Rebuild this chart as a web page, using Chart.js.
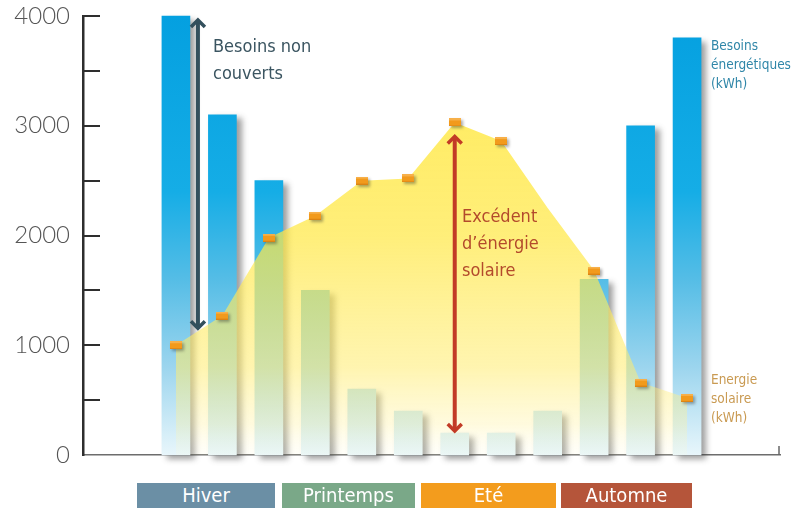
<!DOCTYPE html>
<html>
<head>
<meta charset="utf-8">
<script src="https://cdn.jsdelivr.net/npm/chart.js@4/dist/chart.umd.min.js"></script>
<style>
  html, body { margin: 0; padding: 0; background: #fff; }
  #wrap { position: relative; width: 798px; height: 510px; overflow: hidden; }
  #chart { position: absolute; left: 0; top: 0; }
  .note { position: absolute; font-family: 'DejaVu Sans Condensed', 'Liberation Sans Narrow', sans-serif; white-space: nowrap; }
  .big { font-size: 18px; line-height: 27px; }
  .small { font-size: 13.5px; line-height: 19px; }
  .season { position: absolute; top: 483px; height: 25px; line-height: 25px; color: #fff; text-align: center;
            font-family: 'DejaVu Sans Condensed', 'Liberation Sans Narrow', sans-serif; font-size: 20px; }
</style>
</head>
<body>
<div id="wrap">
  <canvas id="chart" width="798" height="510"></canvas>
  <div class="note big" style="left:213px; top:32px; color:#3b5561;">Besoins non<br>couverts</div>
  <div class="note big" style="left:462px; top:202px; color:#b34a2c;">Excédent<br>d’énergie<br>solaire</div>
  <div class="note small" style="left:711px; top:36px; color:#2f86a8;">Besoins<br>énergétiques<br>(kWh)</div>
  <div class="note small" style="left:711px; top:370px; color:#c99a52;">Energie<br>solaire<br>(kWh)</div>
  <div id="seasons"></div>
</div>
<script>
// ── DATA ──────────────────────────────────────────────────────────────────
const MONTHS   = ['Janv','Févr','Mars','Avr','Mai','Juin','Juil','Août','Sept','Oct','Nov','Déc'];
const BESOINS  = [4000, 3100, 2500, 1500, 600, 400, 200, 200, 400, 1600, 3000, 3800];
const SOLAIRE  = [1000, 1270, 1980, 2180, 2500, 2520, 3030, 2860, 2250, 1680, 660, 520];
const MARKERS  = [1, 1, 1, 1, 1, 1, 1, 1, 0, 1, 1, 1];   // sept. has no visible marker
const Y_TICKS  = [0, 1000, 2000, 3000, 4000];
const SEASONS  = ['Hiver', 'Printemps', 'Eté', 'Automne'];

// ── SEASON BOXES ──────────────────────────────────────────────────────────
const SEASON_BOX = [
  { left: 137, width: 138, bg: '#6b8fa5' },
  { left: 282, width: 133, bg: '#7aa888' },
  { left: 421, width: 135, bg: '#f39c1d' },
  { left: 561, width: 131, bg: '#b5553a' },
];
const seasonsEl = document.getElementById('seasons');
SEASONS.forEach((s, i) => {
  const d = document.createElement('div');
  d.className = 'season';
  d.style.left = SEASON_BOX[i].left + 'px';
  d.style.width = SEASON_BOX[i].width + 'px';
  d.style.background = SEASON_BOX[i].bg;
  d.textContent = s;
  seasonsEl.appendChild(d);
});

// ── MARKER IMAGE ──────────────────────────────────────────────────────────
const marker = document.createElement('canvas');
marker.width = 12; marker.height = 8;
(() => {
  const g = marker.getContext('2d');
  g.fillStyle = '#f29a1c'; g.fillRect(0, 0, 12, 8);
  g.fillStyle = '#f7b04a'; g.fillRect(0, 0, 12, 2);
  g.fillStyle = '#dc8414'; g.fillRect(0, 7, 12, 1);
})();

// ── GRADIENTS ─────────────────────────────────────────────────────────────
function barGradient(c) {
  const { ctx, chartArea } = c.chart;
  if (!chartArea) return '#2ab0e6';
  const g = ctx.createLinearGradient(0, chartArea.top, 0, chartArea.bottom);
  g.addColorStop(0,    '#04a0e0');
  g.addColorStop(0.4,  '#15ade6');
  g.addColorStop(0.6,  '#55bde6');
  g.addColorStop(0.8,  '#9cd5ee');
  g.addColorStop(1,    '#e8f6fb');
  return g;
}
function areaGradient(c) {
  const { ctx, chartArea } = c.chart;
  if (!chartArea) return 'rgba(255,235,80,0.6)';
  const g = ctx.createLinearGradient(0, chartArea.top, 0, chartArea.bottom);
  g.addColorStop(0,    'rgba(255,230,50,0.85)');
  g.addColorStop(0.5,  'rgba(255,232,70,0.72)');
  g.addColorStop(0.8,  'rgba(255,236,110,0.55)');
  g.addColorStop(0.93, 'rgba(255,242,160,0.35)');
  g.addColorStop(1,    'rgba(255,250,215,0.15)');
  return g;
}

// ── PLUGINS ───────────────────────────────────────────────────────────────
const shadows = {
  id: 'shadows',
  beforeDatasetDraw(chart, args) {
    const ctx = chart.ctx;
    ctx.save();
    if (args.index === 1) {
      ctx.shadowColor = 'rgba(40,40,40,0.45)';
      ctx.shadowBlur = 6; ctx.shadowOffsetX = 5; ctx.shadowOffsetY = 4;
    } else {
      ctx.shadowColor = 'rgba(40,40,40,0.4)';
      ctx.shadowBlur = 3; ctx.shadowOffsetX = 2; ctx.shadowOffsetY = 2;
    }
  },
  afterDatasetDraw(chart) { chart.ctx.restore(); }
};

function arrow(ctx, x, y1, y2, color) {
  ctx.save();
  ctx.strokeStyle = color; ctx.lineWidth = 4; ctx.lineCap = 'butt'; ctx.lineJoin = 'miter';
  ctx.beginPath(); ctx.moveTo(x, y1 + 2); ctx.lineTo(x, y2 - 2); ctx.stroke();
  ctx.lineWidth = 3.5;
  ctx.beginPath(); ctx.moveTo(x - 7, y1 + 8); ctx.lineTo(x, y1 + 1); ctx.lineTo(x + 7, y1 + 8); ctx.stroke();
  ctx.beginPath(); ctx.moveTo(x - 7, y2 - 8); ctx.lineTo(x, y2 - 1); ctx.lineTo(x + 7, y2 - 8); ctx.stroke();
  ctx.restore();
}

const decor = {
  id: 'decor',
  afterDatasetsDraw(chart) {
    const { ctx, chartArea: a, scales: { x, y } } = chart;
    // inner ticks on the y axis every 500
    ctx.save();
    ctx.strokeStyle = '#2e2e2e'; ctx.lineWidth = 2;
    for (let v = 500; v <= 4000; v += 500) {
      const py = Math.round(y.getPixelForValue(v));
      ctx.beginPath(); ctx.moveTo(a.left, py); ctx.lineTo(a.left + 17, py); ctx.stroke();
    }
    // end tick of the x axis
    ctx.strokeStyle = '#666'; ctx.lineWidth = 1.5;
    ctx.beginPath(); ctx.moveTo(a.right - 1, a.bottom); ctx.lineTo(a.right - 1, a.bottom - 9); ctx.stroke();
    ctx.restore();

    // unmet needs (january) and solar surplus (july)
    arrow(ctx, x.getPixelForValue(1) + 22, y.getPixelForValue(BESOINS[0]) + 3, y.getPixelForValue(SOLAIRE[0]) - 16, '#33505d');
    arrow(ctx, x.getPixelForValue(7), y.getPixelForValue(SOLAIRE[6]) + 13, y.getPixelForValue(BESOINS[6]) - 1, '#c23b26');
  }
};

// ── CHART ─────────────────────────────────────────────────────────────────
new Chart(document.getElementById('chart'), {
  type: 'bar',
  data: {
    labels: MONTHS,
    datasets: [
      {
        type: 'line',
        label: 'Energie solaire (kWh)',
        data: SOLAIRE.map((v, i) => ({ x: i + 1, y: v })),
        fill: 'origin',
        backgroundColor: areaGradient,
        borderWidth: 0,
        borderColor: 'rgba(0,0,0,0)',
        tension: 0,
        pointStyle: marker,
        pointRadius: MARKERS.map(m => m ? 5 : 0),
        order: 0,
        clip: false,
      },
      {
        type: 'bar',
        label: 'Besoins énergétiques (kWh)',
        data: BESOINS.map((v, i) => ({ x: i + 1, y: v })),
        backgroundColor: barGradient,
        borderWidth: 0,
        barThickness: 28,
        order: 1,
        clip: false,
      }
    ]
  },
  options: {
    responsive: false,
    animation: false,
    layout: { padding: { top: 16, right: 18, left: 0, bottom: 0 } },
    plugins: { legend: { display: false }, tooltip: { enabled: false } },
    scales: {
      x: {
        type: 'linear', min: -1, max: 14, offset: false,
        grid: { display: false },
        ticks: { display: false },
        border: { display: true, color: '#6d6d6d', width: 1.5 },
        afterFit: s => { s.height = 55; }
      },
      y: {
        min: 0, max: 4000,
        afterBuildTicks: s => { s.ticks = Y_TICKS.map(v => ({ value: v })); },
        grid: { display: false, drawTicks: false },
        border: { display: true, color: '#2e2e2e', width: 2.5 },
        ticks: { padding: 13, color: '#555', font: { family: 'Lato', weight: '300', size: 24 },
                 callback: v => String(v) },
        afterFit: s => { s.width = 83; s.paddingTop = 0; s.paddingBottom = 0; }
      }
    }
  },
  plugins: [shadows, decor]
});
</script>
</body>
</html>
